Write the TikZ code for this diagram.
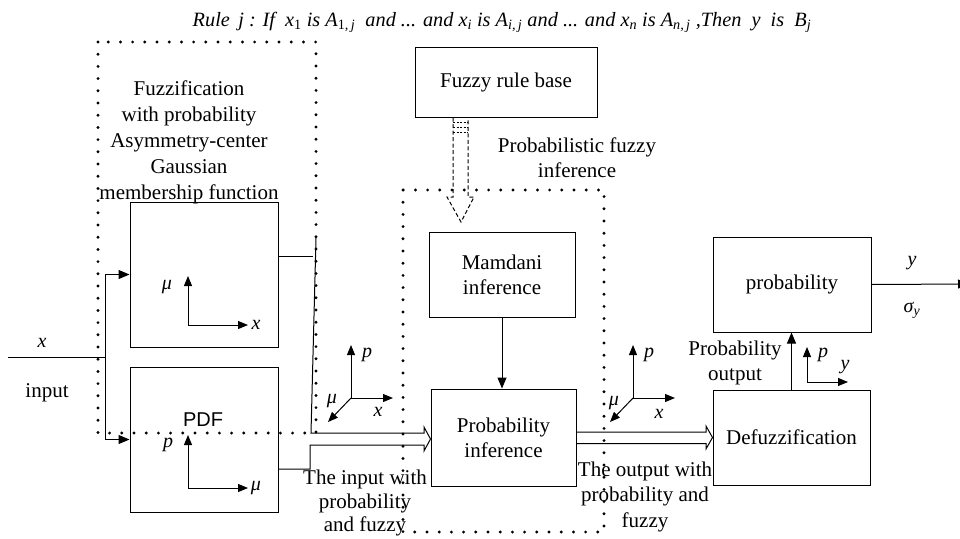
\documentclass[tikz,border=0pt]{standalone}
\usepackage{fontspec}
\setmainfont{Liberation Serif}
\newfontfamily\arialfont{Liberation Sans}
\usetikzlibrary{arrows.meta,calc}
\begin{document}
\begin{tikzpicture}[x=1pt,y=-1pt,
  box/.style={draw,line width=1pt,inner sep=0pt,align=center,font=\fontsize{21}{25}\selectfont},
  lbl/.style={inner sep=0pt,align=center,font=\fontsize{21}{25}\selectfont},
  ax/.style={inner sep=0pt,font=\fontsize{20}{24}\selectfont\itshape},
  dotbox/.style={line width=3.2pt,dash pattern=on 0pt off 12.2pt,line cap=round},
  axarr/.style={line width=1pt,-{Triangle[length=10pt,width=8pt]}},
  inarr/.style={line width=1pt,-{Triangle[length=11pt,width=9pt]}},
  ln/.style={line width=1pt},
]
\useasboundingbox (0,0) rectangle (960,538);

% title
\node[inner sep=0pt,font=\fontsize{20.3}{22}\selectfont\itshape] (title) at (502,22)
 {Rule \,j : If \ x\textsubscript{\upshape 1} is A\textsubscript{{\upshape 1},\,j} \ and ... and x\textsubscript{i} is A\textsubscript{i,\,j} and ... and x\textsubscript{n} is A\textsubscript{n,\,j} ,Then \ y \ is \ B\textsubscript{j}};

% dotted boxes
\draw[dotbox] (98,42) rectangle (316,433);
\draw[dotbox] (403,190) rectangle (604,532);

% boxes
\node[box,minimum width=182pt,minimum height=70pt] (rulebase) at (506,82) {Fuzzy rule base};
\node[box,minimum width=146pt,minimum height=85pt] (mamdani) at (502,274.5) {Mamdani\\inference};
\node[box,minimum width=145pt,minimum height=97pt] (probinf) at (503.5,437.5) {Probability\\inference};
\node[box,minimum width=148pt,minimum height=145pt] (fuzzbox) at (204,274.5) {};
\node[box,minimum width=148pt,minimum height=145pt] (pdfbox) at (204,439.5) {};
\node[box,minimum width=157pt,minimum height=95pt] (defuzz) at (791.5,437.5) {Defuzzification};
\node[box,minimum width=158pt,minimum height=95pt] (probbox) at (792,284.5) {probability};

% texts
\node[lbl,font=\fontsize{21}{26}\selectfont] (fuzztxt) at (189,142) {Fuzzification\\with probability\\Asymmetry-center\\Gaussian\\membership function};
\node[lbl] (pfitxt) at (577,157.5) {Probabilistic fuzzy\\inference};
\node[lbl,font=\fontsize{21}{23.5}\selectfont] (intxt) at (365,503) {The input with\\probability\\and fuzzy};
\node[lbl,font=\fontsize{21}{25.5}\selectfont] (outtxt) at (645,496.5) {The output with\\probability and\\fuzzy};
\node[lbl] (potxt) at (735,362.5) {Probability\\output};
\node[lbl] (inputtxt) at (47,393) {input};
\node[ax] (xin) at (42,343) {x};
\node[ax] (yout) at (912,263) {y};
\node[ax] (sigout) at (912,310) {σ\textsubscript{y}};
\node[inner sep=0pt,font=\arialfont\fontsize{20}{24}\selectfont] (pdftxt) at (203,420) {PDF};

% input lines
\coordinate (inL) at (8,357);
\coordinate (jn) at (105,357);
\draw[ln] (inL) -- (jn);
\draw[inarr] (jn) |- (fuzzbox.west);
\draw[inarr] (jn) |- (pdfbox.west);

% axes in fuzzification box
\coordinate (o1) at (188,325);
\draw[axarr] (o1) -- ++(0,-49);
\draw[axarr] (o1) -- ++(60,0);
\node[ax] (mu1) at (167,287) {μ};
\node[ax] (x1) at (256,325) {x};
% axes in pdf box
\coordinate (o2) at (188,488);
\draw[axarr] (o2) -- ++(0,-53);
\draw[axarr] (o2) -- ++(60,0);
\node[ax] (p2) at (168,445) {p};
\node[ax] (mu2) at (256,488) {μ};

% 3D axes left
\coordinate (o3) at (351,398);
\draw[axarr] (o3) -- ++(0,-53);
\draw[axarr] (o3) -- ++(42,0);
\draw[axarr] (o3) -- ++(-23,24);
\node[ax] (p3) at (367,355) {p};
\node[ax] (mu3) at (332,401) {μ};
\node[ax] (x3) at (378,412) {x};
% 3D axes right
\coordinate (o4) at (633,398);
\draw[axarr] (o4) -- ++(0,-53);
\draw[axarr] (o4) -- ++(42,0);
\draw[axarr] (o4) -- ++(-23,24);
\node[ax] (p4) at (649,355) {p};
\node[ax] (mu4) at (614,403) {μ};
\node[ax] (x4) at (659,414) {x};
% small axes near defuzz
\coordinate (o5) at (807,382);
\draw[axarr] (o5) -- ++(0,-35);
\draw[axarr] (o5) -- ++(41,0);
\node[ax] (p5) at (823,355) {p};
\node[ax] (y5) at (845,367) {y};

% fuzz box output to double arrow
\draw[ln] (fuzzbox.east |- 0,256) -- (313,256);
\draw[ln,line join=miter] (316,238) -- (311,433) -- (424,433) -- (424,427) -- ($(probinf.west)+(0,1.5)$) -- (424,451) -- (424,445) -- (310,445) -- (310,469) -- (pdfbox.east |- 0,469);

% output double arrow
\draw[ln,line join=miter] ($(probinf.east)+(0,-5.5)$) -- (706,432) -- (706,426) -- (defuzz.west) -- (706,449) -- (706,443.5) -- ($(probinf.east)+(0,6)$);

% mamdani to probability inference
\draw[inarr] (mamdani.south) -- (mamdani.south |- probinf.north);
% defuzz to probability
\draw[inarr] (defuzz.north) -- (defuzz.north |- probbox.south);

% output line
\coordinate (outR) at (969,284);
\begin{scope}
\clip (0,0) rectangle (960,538);
\draw[inarr] (probbox.east) -- (outR);
\end{scope}

% dashed block arrow from rule base
\coordinate (da) at ($(rulebase.south)+(-53,0)$);
\coordinate (db) at ($(rulebase.south)+(-38,0)$);
\draw[line width=1pt,dash pattern=on 4pt off 2.5pt,line join=miter] (da) -- (453,197) -- (447,197) -- (461,222) -- (474,197) -- (468,197) -- (db);
\draw[line width=1pt,dash pattern=on 2pt off 1.5pt] (453,122) -- (468,122) (453,127) -- (468,127) (453,132) -- (468,132);
\end{tikzpicture}
\end{document}
